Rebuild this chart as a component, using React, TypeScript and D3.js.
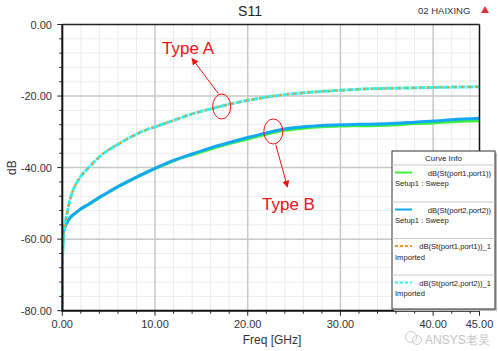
import * as d3 from 'd3'

// frequency points (GHz)
const freq = [0, 0.02, 0.05, 0.1, 0.22, 0.47, 0.83, 1.4, 2, 2.8, 4, 5, 6, 7.5, 9, 10, 12, 14, 16, 18, 20, 22, 24, 26, 28, 30, 32, 34, 36, 38, 40, 42, 45]

// simulated (Setup1 : Sweep)
const s11Sweep = [-80, -66.2, -61.2, -58.4, -57.1, -55.6, -54.1, -52.8, -51.6, -50.4, -48.4, -46.9, -45.4, -43.4, -41.5, -40.3, -38.1, -36.4, -34.8, -33.3, -32, -30.7, -29.6, -29, -28.6, -28.4, -28.3, -28.2, -28, -27.7, -27.5, -27.2, -26.9]
const s22Sweep = [-80, -66, -61, -58.3, -57, -55.5, -54, -52.7, -51.5, -50.3, -48.3, -46.8, -45.3, -43.3, -41.4, -40.2, -38, -36.2, -34.5, -33, -31.6, -30.3, -29.2, -28.6, -28.2, -28, -27.9, -27.8, -27.6, -27.3, -27, -26.6, -26.2]

// imported
const s11Imported = [-80, -68, -62, -59.5, -57, -53.5, -49, -45, -42.5, -40.2, -37, -35, -33.5, -31.3, -29.5, -28.6, -26.8, -25, -23.6, -22.3, -21.2, -20.3, -19.6, -19.1, -18.7, -18.4, -18.1, -17.9, -17.8, -17.7, -17.6, -17.5, -17.4]
const s22Imported = [-80, -68, -62, -59.4, -56.9, -53.4, -49, -45, -42.4, -40.1, -37, -35, -33.5, -31.3, -29.5, -28.6, -26.8, -25, -23.6, -22.3, -21.2, -20.3, -19.6, -19.1, -18.7, -18.4, -18.1, -17.9, -17.8, -17.7, -17.6, -17.5, -17.4]

const xTickLabels = [0, 10, 20, 30, 40, 45]
const yTickLabels = [0, -20, -40, -60, -80]

const legendItems = [
  { name: 'dB(St(port1,port1))', sub: 'Setup1 : Sweep', color: '#3df23d', dash: '' },
  { name: 'dB(St(port2,port2))', sub: 'Setup1 : Sweep', color: '#12a8f5', dash: '' },
  { name: 'dB(St(port1,port1))_1', sub: 'Imported', color: '#f7941d', dash: '3,2' },
  { name: 'dB(St(port2,port2))_1', sub: 'Imported', color: '#33f0f0', dash: '3,2' },
]

const W = 498
const H = 351
const left = 62.3
const right = 479.5
const top = 24.5
const bottom = 310.7
const font = 'Liberation Sans, Arial, sans-serif'

export default function App() {
  const x = d3.scaleLinear().domain([0, 45]).range([left, right])
  const y = d3.scaleLinear().domain([-80, 0]).range([bottom, top])

  const line = (vals: number[]) =>
    d3.line<number>()
      .x((_, i) => x(freq[i]))
      .y(d => y(d))
      .curve(d3.curveMonotoneX)(vals) || ''

  const minorX = d3.range(2, 45, 2).filter(v => v % 10 !== 0)
  const minorY = d3.range(-76, 0, 4).filter(v => v % 20 !== 0)
  const majorX = [10, 20, 30, 40]
  const majorY = [-20, -40, -60]

  const lgX = 392
  const lgY = 151
  const lgW = 103
  const lgBottom = 309
  const seps = [165, 202, 238.5, 275]

  return (
    <svg width={W} height={H} style={{ position: 'absolute', left: 0, top: 0, background: '#fff' }} fontFamily={font}>
      <defs>
        <clipPath id="plot">
          <rect x={left} y={top} width={right - left} height={bottom - top} />
        </clipPath>
        <marker id="arr" viewBox="0 0 10 10" refX="9" refY="5" markerWidth="7" markerHeight="7" orient="auto">
          <path d="M0,0 L10,5 L0,10 z" fill="#ee1111" />
        </marker>
      </defs>

      {/* grid */}
      {minorX.map(v => (
        <line key={'mx' + v} x1={x(v)} x2={x(v)} y1={top} y2={bottom} stroke="#ececec" strokeWidth={1} />
      ))}
      {minorY.map(v => (
        <line key={'my' + v} x1={left} x2={right} y1={y(v)} y2={y(v)} stroke="#ececec" strokeWidth={1} />
      ))}
      {majorX.map(v => (
        <line key={'Mx' + v} x1={x(v)} x2={x(v)} y1={top} y2={bottom} stroke="#c8c8c8" strokeWidth={1.5} />
      ))}
      {majorY.map(v => (
        <line key={'My' + v} x1={left} x2={right} y1={y(v)} y2={y(v)} stroke="#c8c8c8" strokeWidth={1.5} />
      ))}

      {/* curves */}
      <g clipPath="url(#plot)" fill="none">
        <path d={line(s11Sweep)} stroke="#3df23d" strokeWidth={3} />
        <path d={line(s22Sweep)} stroke="#12a8f5" strokeWidth={3} />
        <path d={line(s22Imported)} stroke="#33f0f0" strokeWidth={3} strokeDasharray="7,1" />
        <path d={line(s11Imported)} stroke="#f7941d" strokeWidth={2.2} strokeDasharray="2,5" />
      </g>

      {/* frame */}
      <line x1={left} x2={right} y1={top} y2={top} stroke="#222" strokeWidth={1.5} />
      <line x1={right} x2={right} y1={top} y2={bottom} stroke="#111" strokeWidth={1.5} />
      <line x1={left} x2={left} y1={top} y2={bottom + 1} stroke="#111" strokeWidth={2} />
      <line x1={left} x2={right} y1={bottom} y2={bottom} stroke="#111" strokeWidth={2} />

      {/* ticks */}
      {d3.range(-80, 1, 4).map(v => (
        <line key={'ty' + v} x1={left - (v % 20 === 0 ? 5 : 3)} x2={left} y1={y(v)} y2={y(v)} stroke="#222" strokeWidth={1} />
      ))}
      {d3.range(0, 46, 2).concat([45]).map(v => (
        <line key={'tx' + v} x1={x(v)} x2={x(v)} y1={bottom} y2={bottom + (v % 10 === 0 || v === 45 ? 5 : 3)} stroke="#222" strokeWidth={1} />
      ))}

      {yTickLabels.map(v => (
        <text key={'ly' + v} x={52} y={y(v) + 4} fontSize={11} textAnchor="end" fill="#333">{v.toFixed(2)}</text>
      ))}
      {xTickLabels.map(v => (
        <text key={'lx' + v} x={x(v)} y={328} fontSize={11} textAnchor="middle" fill="#333">{v.toFixed(2)}</text>
      ))}

      {/* titles */}
      <text x={250} y={16} fontSize={14} textAnchor="middle" fill="#222">S11</text>
      <text x={418} y={14} fontSize={9.5} fill="#333">02  HAIXING</text>
      <path d="M485,6 L489,13 L481,13 Z" fill="#e03030" />
      <text x={272} y={344} fontSize={12} textAnchor="middle" fill="#333">Freq [GHz]</text>
      <text transform={`translate(16,${(top + bottom) / 2}) rotate(-90)`} fontSize={12} textAnchor="middle" fill="#333">dB</text>

      {/* annotations */}
      <g fill="none" stroke="#ee1111" strokeWidth={1}>
        <ellipse cx={221.7} cy={106.5} rx={9} ry={12.5} />
        <ellipse cx={273.3} cy={131.5} rx={9.5} ry={12.5} />
        <line x1={218.3} y1={93.5} x2={192} y2={58.5} markerEnd="url(#arr)" />
        <line x1={275.7} y1={144.5} x2={287.5} y2={187} markerEnd="url(#arr)" />
      </g>
      <text x={162} y={53.5} fontSize={17} fill="#ee1111">Type A</text>
      <text x={262} y={210} fontSize={17} fill="#ee1111">Type B</text>

      {/* legend */}
      <rect x={lgX + 2} y={lgY + 2} width={lgW} height={lgBottom - lgY} fill="#bbb" />
      <rect x={lgX} y={lgY} width={lgW} height={lgBottom - lgY} fill="#fff" stroke="#333" strokeWidth={1} />
      <text x={lgX + lgW / 2} y={161} fontSize={8} textAnchor="middle" fill="#222">Curve Info</text>
      {seps.map(s => (
        <line key={'sep' + s} x1={lgX} x2={lgX + lgW} y1={s} y2={s} stroke="#c8c8c8" strokeWidth={1} />
      ))}
      {legendItems.map((it, i) => {
        const y0 = seps[i]
        return (
          <g key={it.name}>
            <line x1={395} x2={412} y1={y0 + 7.5} y2={y0 + 7.5} stroke={it.color} strokeWidth={2} strokeDasharray={it.dash} />
            <text x={491} y={y0 + 10.5} fontSize={7.6} textAnchor="end" fill="#222">{it.name}</text>
            <text x={395} y={y0 + 21} fontSize={7.6} fill="#222">{it.sub}</text>
          </g>
        )
      })}

      {/* watermark */}
      <g opacity={0.5}>
        <circle cx={411} cy={337} r={5.5} fill="none" stroke="#999" strokeWidth={1} />
        <circle cx={417} cy={340} r={4.5} fill="none" stroke="#999" strokeWidth={1} />
        <text x={425} y={344} fontSize={12} fill="#888">ANSYS老吴</text>
      </g>
    </svg>
  )
}
